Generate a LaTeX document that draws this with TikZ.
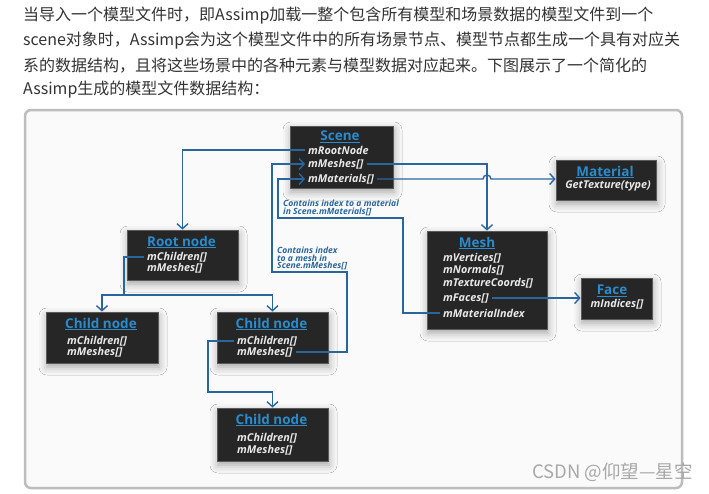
\documentclass[tikz,border=0pt]{standalone}
\usepackage{fontspec}
\setmainfont{Open Sans}
\newfontfamily\cjkfont{Noto Sans CJK SC}
\usetikzlibrary{arrows.meta,calc,shadows.blur}
\definecolor{conncol}{HTML}{2A669E}
\definecolor{titlecol}{HTML}{2B8BCB}
\definecolor{boxfill}{HTML}{262626}
\definecolor{boxedge}{HTML}{5A5A5A}
\definecolor{bodycol}{HTML}{E8E8E8}
\definecolor{frameedge}{HTML}{BDBDBD}
\definecolor{framefill}{HTML}{FAFAFA}
\definecolor{textcol}{HTML}{333333}
\definecolor{markcol}{HTML}{A8A8A8}
\begin{document}
\begin{tikzpicture}[x=1pt,y=-1pt,
  box/.style={draw=boxedge, line width=0.8pt, fill=boxfill, inner sep=0pt,
    blur shadow={shadow xshift=1pt, shadow yshift=-4pt, shadow blur radius=8pt, shadow opacity=35}},
  ttl/.style={text=titlecol, font=\fontsize{13.5}{13.5}\selectfont\bfseries, inner sep=0pt},
  fld/.style={text=bodycol, font=\fontsize{10.8}{10.8}\selectfont\bfseries\itshape, inner xsep=3pt, inner ysep=1pt, anchor=west},
  conn/.style={draw=conncol, line width=1.4pt},
  arr/.style={conn, -{Straight Barb[length=5pt,width=11pt]}},
  note/.style={text=conncol, font=\fontsize{8.6}{7.8}\selectfont\bfseries\itshape, align=left, anchor=north west, inner sep=0pt},
  para/.style={text=textcol, font=\cjkfont\fontsize{16}{16}\selectfont, anchor=west, inner sep=0pt},
]
\useasboundingbox (0,0) rectangle (709,493);
\fill[white] (0,0) rectangle (709,493);

% paragraph
\node[para] (p1) at (23,16) {当导入一个模型文件时，即Assimp加载一整个包含所有模型和场景数据的模型文件到一个};
\node[para] (p2) at (23,41) {scene对象时，Assimp会为这个模型文件中的所有场景节点、模型节点都生成一个具有对应关};
\node[para] (p3) at (23,66) {系的数据结构，且将这些场景中的各种元素与模型数据对应起来。下图展示了一个简化的};
\node[para] (p4) at (23,90) {Assimp生成的模型文件数据结构：};

% frame
\draw[frameedge, line width=2.5pt, fill=framefill, rounded corners=6pt] (25,110) rectangle (682,488);

% boxes
\node[box, minimum width=103pt, minimum height=62pt] (scene) at (341.5,157) {};
\node[box, minimum width=100pt, minimum height=40pt] (material) at (606,180) {};
\node[box, minimum width=120pt, minimum height=98pt] (mesh) at (487,280) {};
\node[box, minimum width=71pt, minimum height=41pt] (face) at (616.5,298.5) {};
\node[box, minimum width=111pt, minimum height=50pt] (root) at (182.5,255) {};
\node[box, minimum width=112pt, minimum height=51pt] (c1) at (102,337.5) {};
\node[box, minimum width=111pt, minimum height=51pt] (c2) at (272.5,337.5) {};
\node[box, minimum width=111pt, minimum height=53pt] (c3) at (272.5,434.5) {};

% titles
\node[ttl] (tscene) at (340,137) {\underline{Scene}};
\node[ttl] (tmaterial) at (605,172) {\underline{Material}};
\node[ttl] (tmesh) at (477,243) {\underline{Mesh}};
\node[ttl] (tface) at (612,291) {\underline{Face}};
\node[ttl] (troot) at (181.5,242) {\underline{Root node}};
\node[ttl] (tc1) at (101,324) {\underline{Child node}};
\node[ttl] (tc2) at (271.5,324) {\underline{Child node}};
\node[ttl] (tc3) at (271.5,420) {\underline{Child node}};

% fields
\node[fld] (sroot) at (305,150) {mRootNode};
\node[fld] (smeshes) at (305,164) {mMeshes[]};
\node[fld] (smat) at (305,179) {mMaterials[]};
\node[fld, anchor=center] (gettex) at (608,186) {GetTexture(type)};
\node[fld] (mvert) at (440,258) {mVertices[]};
\node[fld] (mnorm) at (440,270) {mNormals[]};
\node[fld] (mtex) at (440,283) {mTextureCoords[]};
\node[fld] (mfaces) at (440,298) {mFaces[]};
\node[fld] (mmi) at (440,313) {mMaterialIndex};
\node[fld, anchor=center] (findices) at (617,304) {mIndices[]};
\node[fld] (rch) at (144,257) {mChildren[]};
\node[fld] (rme) at (144,268.5) {mMeshes[]};
\node[fld] (c1ch) at (64,341) {mChildren[]};
\node[fld] (c1me) at (64,352) {mMeshes[]};
\node[fld] (c2ch) at (234,341) {mChildren[]};
\node[fld] (c2me) at (234,352) {mMeshes[]};
\node[fld] (c3ch) at (234,438) {mChildren[]};
\node[fld] (c3me) at (234,450) {mMeshes[]};

% notes
\node[note] (n1) at (283,199.5) {Contains index to a material\\in Scene.mMaterials[]};
\node[note] (n2) at (277,246.5) {Contains index\\to a mesh in\\Scene.mMeshes[]};

% helper coordinates
\coordinate (k1) at (403,218);
\coordinate (k2) at (278,0);
\coordinate (k3) at (347,272);
\coordinate (k4) at (272,0);
\coordinate (k5) at (124,295);
\coordinate (k6) at (208,392);

% connectors
\draw[arr] (sroot.west) -| (root.north);
\draw[arr] (smeshes.east) -| (mesh.north);
\draw[arr] (smat.east) -- ($(mesh.north |- smat.east)+(-4,0)$) arc[start angle=180, end angle=0, radius=4pt] -- (smat.east -| material.west);
\draw[arr] (mmi.west) -| (k1) -| (k2 |- smat.west) -- (smat.west);
\draw[arr] (c2me.east) -| (k3) -| (k4 |- smeshes.west) -- (smeshes.west);
\draw[conn] (rch.west) -| (k5);
\draw[arr] (k5) -| (c1.north);
\draw[arr] (k5) -| (c2.north);
\draw[arr] (c2ch.west) -| (k6) -| (c3.north);
\draw[arr] (mfaces.east) -- (mfaces.east -| face.west);

% watermark
\node[anchor=west, inner sep=0pt, text=markcol, font=\cjkfont\fontsize{18.5}{18.5}\selectfont] (wm) at (532,472) {CSDN @仰望—星空};
\end{tikzpicture}
\end{document}
